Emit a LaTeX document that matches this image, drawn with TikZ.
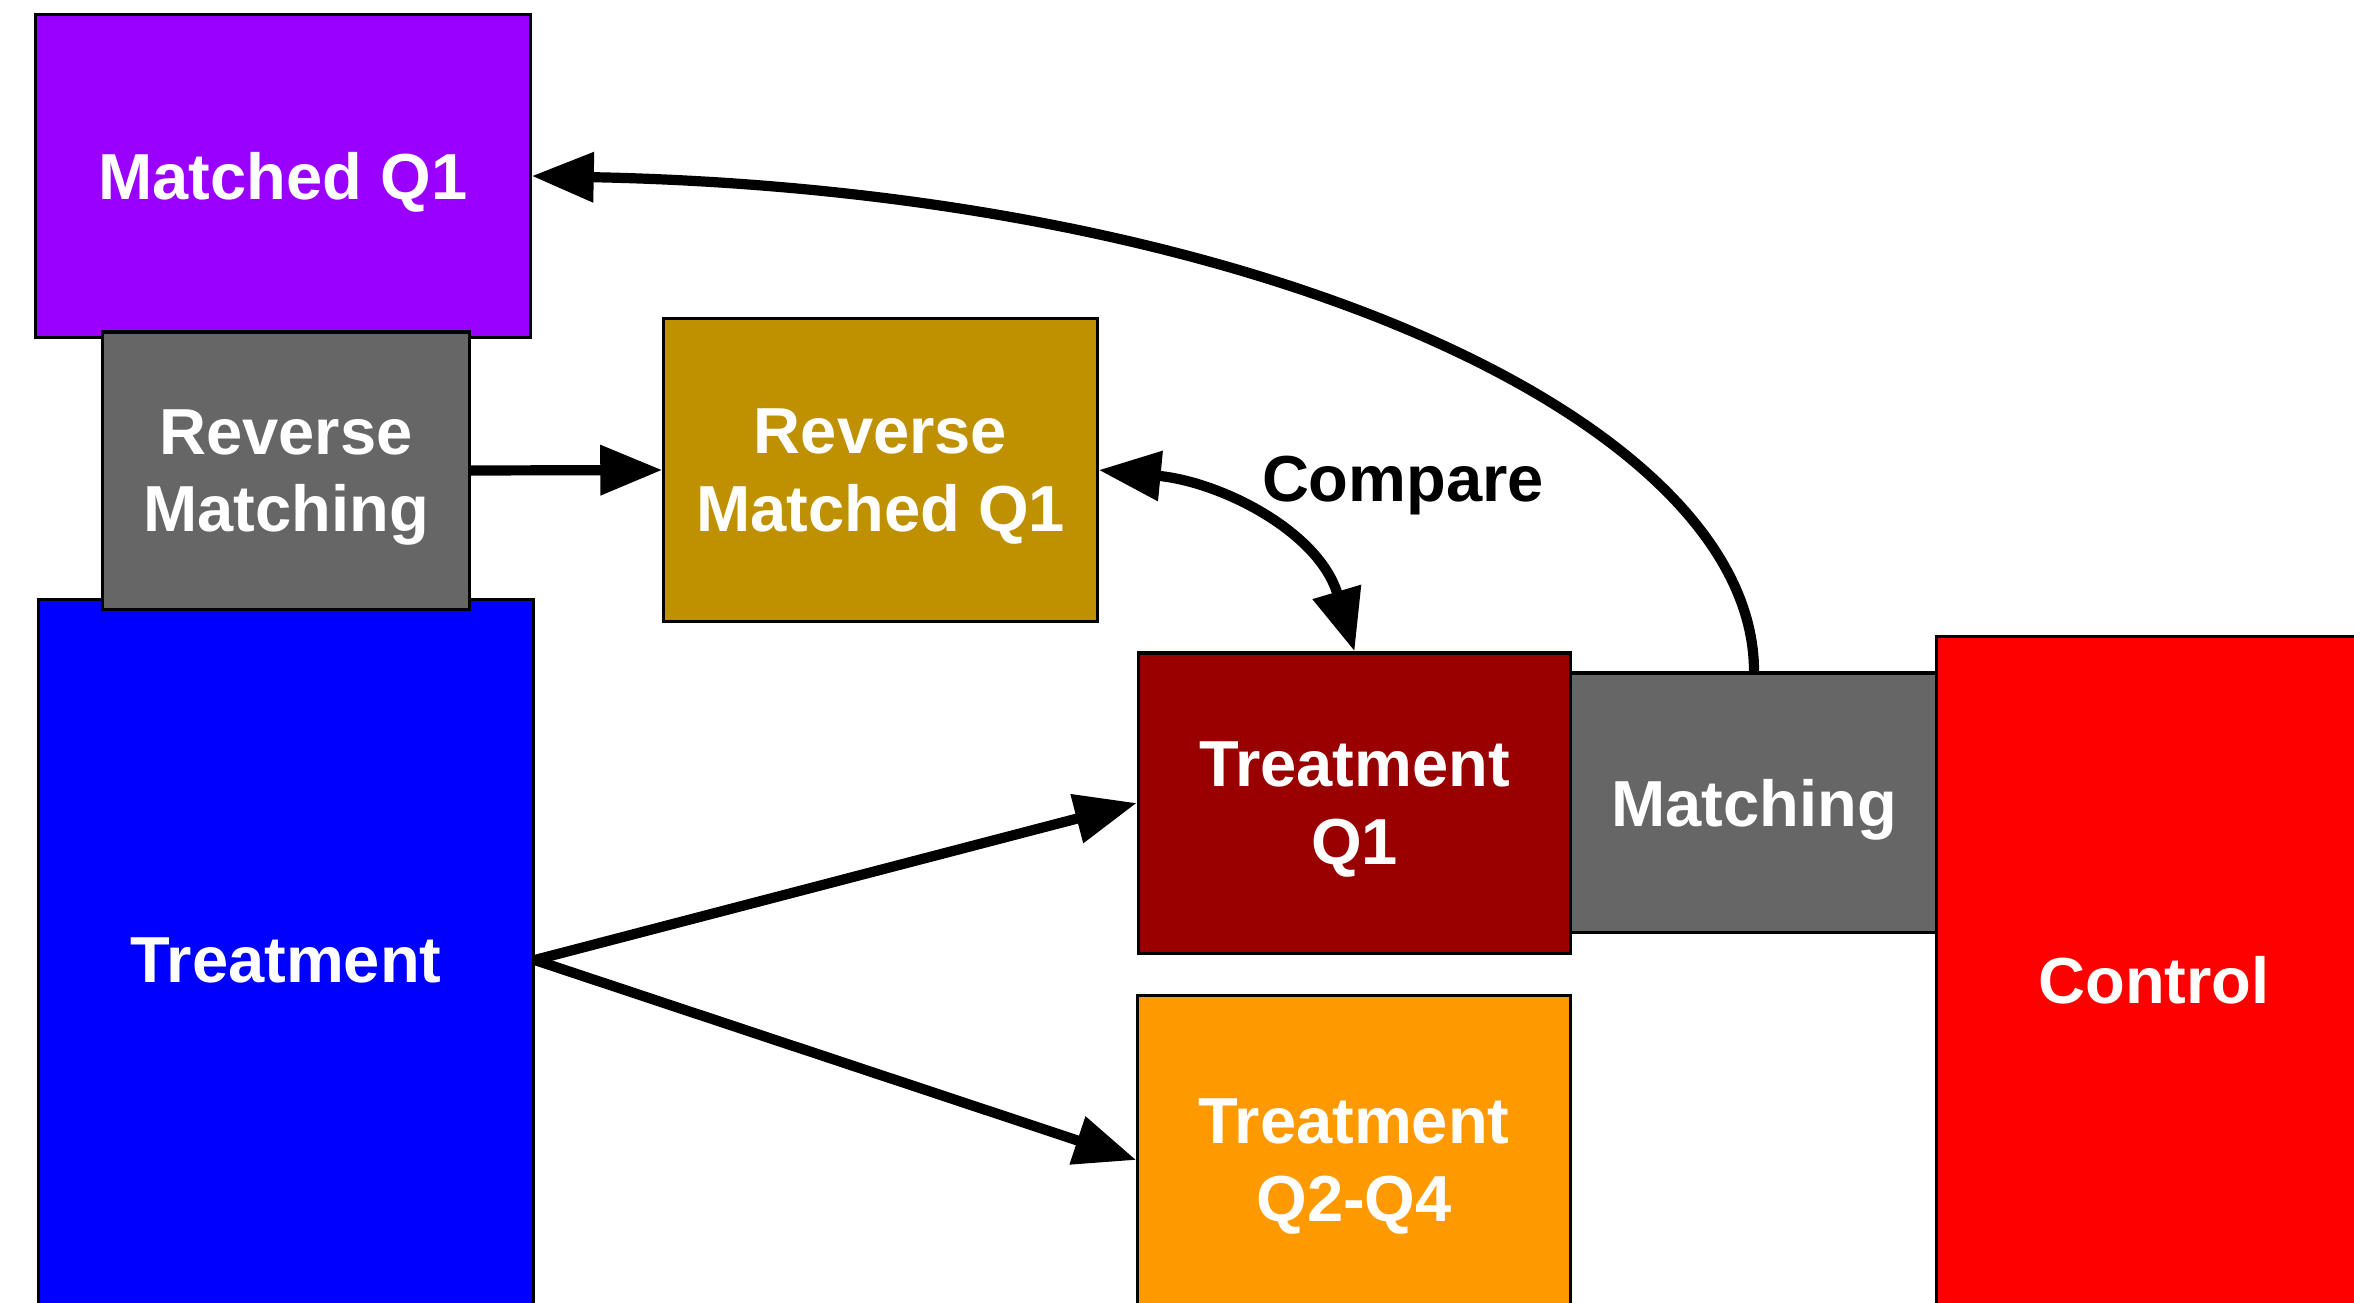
\documentclass[tikz,border=0pt]{standalone}
\usepackage{fontspec}
\setmainfont{Liberation Sans}
\usetikzlibrary{arrows.meta}
\definecolor{cpurple}{HTML}{9900FF}
\definecolor{cblue}{HTML}{0000FF}
\definecolor{cgray}{HTML}{666666}
\definecolor{cgold}{HTML}{BF9000}
\definecolor{cdred}{HTML}{990000}
\definecolor{corange}{HTML}{FF9900}
\definecolor{cred}{HTML}{FF0000}
\begin{document}
\begin{tikzpicture}[x=0.01cm,y=-0.01cm,
  box/.style={draw=black, line width=0.9pt, fill=#1, text=white,
    font=\bfseries\fontsize{18.5}{22}\selectfont, align=center, inner sep=0pt, text depth=0pt},
  conn/.style={line width=2.9pt, -{Triangle[length=0.62cm,width=0.48cm]}},
  biconn/.style={line width=2.9pt, {Triangle[length=0.62cm,width=0.48cm]}-{Triangle[length=0.62cm,width=0.48cm]}},
  lbl/.style={font=\bfseries\fontsize{18.5}{22}\selectfont, text=black, inner sep=0pt}]
\useasboundingbox (0,0) rectangle (2354,1303);
\clip (0,0) rectangle (2354,1303);
% boxes
\node[box=cpurple, minimum width=4.94cm, minimum height=3.22cm] (mq1) at (283,176) {Matched Q1};
\node[box=cblue, minimum width=4.94cm, minimum height=7.2cm] (treat) at (286,960) {Treatment};
\node[box=cgray, minimum width=3.66cm, minimum height=2.77cm] (rm) at (286,470.5) {Reverse\\Matching};
\node[box=cgold, minimum width=4.33cm, minimum height=3.02cm] (rmq1) at (880.5,470) {Reverse\\Matched Q1};
\node[box=cgray, minimum width=3.66cm, minimum height=2.59cm] (match) at (1754,802.5) {Matching};
\node[box=cdred, minimum width=4.32cm, minimum height=3.0cm] (tq1) at (1354.5,803) {Treatment\\Q1};
\node[box=corange, minimum width=4.32cm, minimum height=3.28cm] (tq24) at (1354,1160) {Treatment\\Q2-Q4};
\node[box=cred, minimum width=4.34cm, minimum height=6.86cm] (control) at (2154,980) {Control};
% label
\node[lbl, anchor=base] (cmp) at (1403,501) {Compare};
% control points
\coordinate (c1) at (1222,482);
\coordinate (c2) at (1319,532);
\coordinate (c3) at (1754,420);
\coordinate (c4) at (1250,190);
% connectors
\draw[conn] (rm.east) -- (rmq1.west);
\draw[conn] (treat.east) -- (tq1.west);
\draw[conn] (treat.east) -- (tq24.west);
\draw[biconn] (rmq1.east) .. controls (c1) and (c2) .. (tq1.north);
\draw[conn] (match.north) .. controls (c3) and (c4) .. (mq1.east);
\end{tikzpicture}
\end{document}
